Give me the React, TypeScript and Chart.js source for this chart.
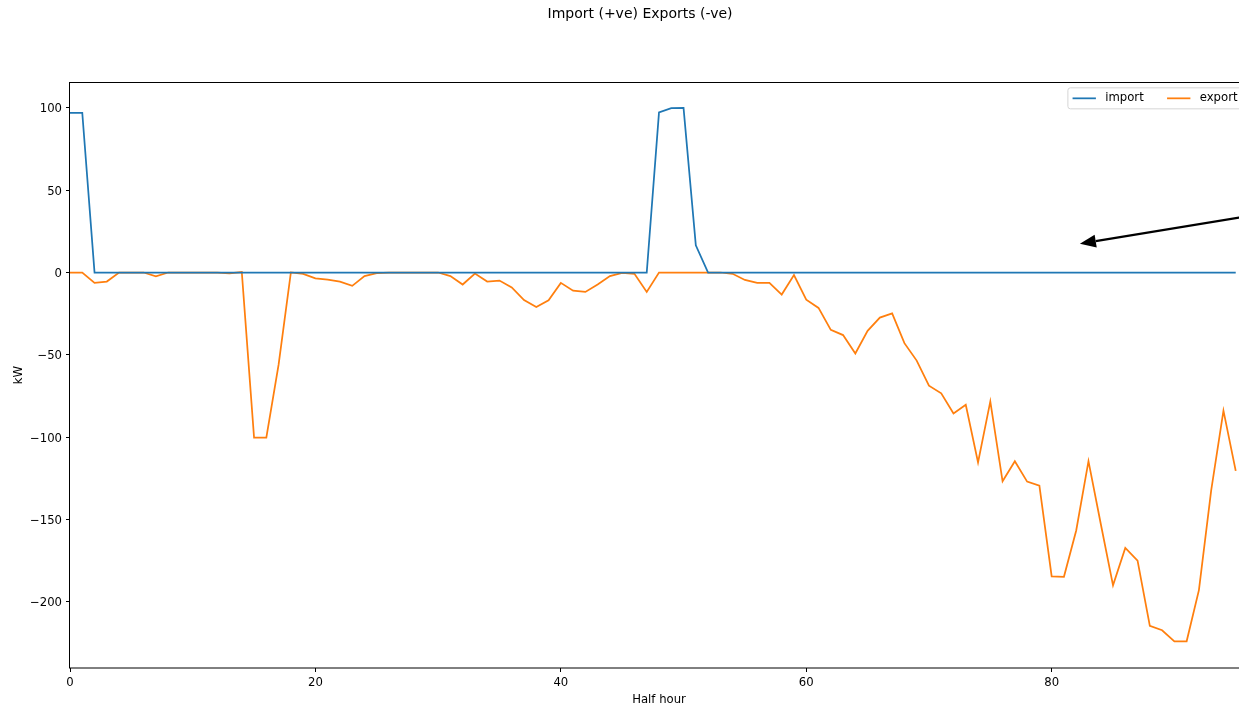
import React, { useEffect, useRef } from "react";
import { Chart, registerables } from "chart.js";

Chart.register(...registerables);

const TITLE = "Import (+ve) Exports (-ve)";
const X_LABEL = "Half hour";
const Y_LABEL = "kW";
const SERIES_LABELS = ["import", "export"];
const SERIES_COLORS = ["#1f77b4", "#ff7f0e"];

const X_TICKS = [0, 20, 40, 60, 80];
const Y_TICKS = [100, 50, 0, -50, -100, -150, -200];
const X_RANGE = [0, 96];
const Y_RANGE = [-240.2, 115.7];

// import (kW) per half hour 0..95
const importKW = [
  97, 97, 0, 0, 0, 0, 0, 0, 0, 0,
  0, 0, 0, 0, 0, 0, 0, 0, 0, 0,
  0, 0, 0, 0, 0, 0, 0, 0, 0, 0,
  0, 0, 0, 0, 0, 0, 0, 0, 0, 0,
  0, 0, 0, 0, 0, 0, 0, 0, 97.2, 99.8,
  100, 16.5, 0, 0, 0, 0, 0, 0, 0, 0,
  0, 0, 0, 0, 0, 0, 0, 0, 0, 0,
  0, 0, 0, 0, 0, 0, 0, 0, 0, 0,
  0, 0, 0, 0, 0, 0, 0, 0, 0, 0,
  0, 0, 0, 0, 0, 0,
];

// export (kW, negative) per half hour 0..95
const exportKW = [
  0, 0, -6.3, -5.5, 0, 0, 0, -2.4, 0, 0,
  0, 0, 0, -0.5, 0.3, -100.3, -100.3, -56, 0, -0.8,
  -3.5, -4.3, -5.5, -8.1, -2.2, -0.4, 0, 0, 0, 0,
  0, -2.2, -7.3, -0.6, -5.5, -4.9, -9.1, -16.7, -20.9, -16.9,
  -6.3, -11, -11.8, -7.3, -2.2, -0.2, -0.8, -11.8, 0, 0,
  0, 0, 0, 0, -0.8, -4.5, -6.3, -6.3, -13.4, -1.6,
  -16.5, -21.5, -34.8, -38, -49.2, -35.4, -27.4, -24.8, -42.9, -53.5,
  -68.7, -73.4, -85.6, -80.3, -115.4, -78.3, -126.8, -114.6, -127, -129.5,
  -184.5, -184.8, -156.7, -114.6, -152.6, -190, -167.3, -175, -214.6, -217.3,
  -224, -224, -192.9, -132.3, -83.9, -120.5,
];

const halfHours = importKW.map((_, i) => i);

// annotation arrow (data coordinates): tip and tail
const ARROW_TIP = [82.3, 17.5];
const ARROW_TAIL = [100, 39.2];

const FONT = '"DejaVu Sans", sans-serif';
const FS = 11.67;

const fmtNum = (v: number) => (v < 0 ? "\u2212" + String(-v) : String(v));

const framePlugin = {
  id: "frame",
  afterDatasetsDraw(chart: any) {
    const { ctx, chartArea: a } = chart;
    ctx.save();
    ctx.strokeStyle = "#000";
    ctx.lineWidth = 1;
    ctx.strokeRect(Math.round(a.left) - 0.5, Math.round(a.top) + 0.5, Math.round(a.right - a.left), Math.round(a.bottom - a.top) - 0.5);
    ctx.restore();
  },
};

const arrowPlugin = {
  id: "arrow",
  afterDatasetsDraw(chart: any) {
    const { ctx } = chart;
    const xs = chart.scales.x;
    const ys = chart.scales.y;
    const tx = xs.getPixelForValue(ARROW_TIP[0]);
    const ty = ys.getPixelForValue(ARROW_TIP[1]);
    const sx = xs.getPixelForValue(ARROW_TAIL[0]);
    const sy = ys.getPixelForValue(ARROW_TAIL[1]);
    const ang = Math.atan2(ty - sy, tx - sx);
    const headLen = 16;
    const headHalf = 6.5;
    const bx = tx - headLen * Math.cos(ang);
    const by = ty - headLen * Math.sin(ang);
    ctx.save();
    ctx.strokeStyle = "#000";
    ctx.fillStyle = "#000";
    ctx.lineWidth = 2.2;
    ctx.beginPath();
    ctx.moveTo(sx, sy);
    ctx.lineTo(bx, by);
    ctx.stroke();
    ctx.beginPath();
    ctx.moveTo(tx, ty);
    ctx.lineTo(bx + headHalf * Math.sin(ang), by - headHalf * Math.cos(ang));
    ctx.lineTo(bx - headHalf * Math.sin(ang), by + headHalf * Math.cos(ang));
    ctx.closePath();
    ctx.fill();
    ctx.restore();
  },
};

const legendPlugin = {
  id: "mplLegend",
  afterDraw(chart: any) {
    const { ctx, chartArea: a } = chart;
    const ds = chart.data.datasets;
    ctx.save();
    ctx.font = `${FS}px ${FONT}`;
    const pad = 0.4 * FS;
    const handle = 2 * FS;
    const textPad = 0.8 * FS;
    const colSp = 2 * FS;
    const widths = ds.map((d: any) => ctx.measureText(d.label).width);
    let W = 2 * pad;
    widths.forEach((w: number, i: number) => {
      W += handle + textPad + w + (i > 0 ? colSp : 0);
    });
    const H = 21;
    const right = a.right - 0.5 * FS;
    const top = a.top + 0.5 * FS;
    const left = right - W;
    const r = 2.5;
    ctx.beginPath();
    ctx.moveTo(left + r, top);
    ctx.lineTo(left + W - r, top);
    ctx.arcTo(left + W, top, left + W, top + r, r);
    ctx.lineTo(left + W, top + H - r);
    ctx.arcTo(left + W, top + H, left + W - r, top + H, r);
    ctx.lineTo(left + r, top + H);
    ctx.arcTo(left, top + H, left, top + H - r, r);
    ctx.lineTo(left, top + r);
    ctx.arcTo(left, top, left + r, top, r);
    ctx.closePath();
    ctx.fillStyle = "rgba(255,255,255,0.8)";
    ctx.fill();
    ctx.strokeStyle = "#d5d5d5";
    ctx.lineWidth = 1;
    ctx.stroke();
    let x = left + pad;
    const cy = top + H / 2;
    ds.forEach((d: any, i: number) => {
      if (i > 0) x += colSp;
      ctx.strokeStyle = d.borderColor;
      ctx.lineWidth = 1.75;
      ctx.beginPath();
      ctx.moveTo(x, cy);
      ctx.lineTo(x + handle, cy);
      ctx.stroke();
      x += handle + textPad;
      ctx.fillStyle = "#000";
      ctx.textAlign = "left";
      ctx.textBaseline = "middle";
      ctx.fillText(d.label, x, cy);
      x += widths[i];
    });
    ctx.restore();
  },
};

const titlePlugin = {
  id: "figTitle",
  afterDraw(chart: any) {
    const { ctx } = chart;
    ctx.save();
    ctx.font = `14px ${FONT}`;
    ctx.fillStyle = "#000";
    ctx.textAlign = "center";
    ctx.textBaseline = "middle";
    ctx.fillText(TITLE, chart.width / 2, 14);
    ctx.restore();
  },
};

export default function App() {
  const canvasRef = useRef<HTMLCanvasElement | null>(null);

  useEffect(() => {
    if (!canvasRef.current) return;
    const font = { family: FONT, size: FS };
    const chart = new Chart(canvasRef.current, {
      type: "line",
      data: {
        datasets: [
          {
            label: SERIES_LABELS[0],
            data: importKW.map((v, i) => ({ x: halfHours[i], y: v })),
            borderColor: SERIES_COLORS[0],
            backgroundColor: SERIES_COLORS[0],
          },
          {
            label: SERIES_LABELS[1],
            data: exportKW.map((v, i) => ({ x: halfHours[i], y: v })),
            borderColor: SERIES_COLORS[1],
            backgroundColor: SERIES_COLORS[1],
          },
        ],
      },
      options: {
        animation: false,
        responsive: false,
        devicePixelRatio: 1,
        layout: { padding: { top: 82, right: 32, left: 0, bottom: 0 } },
        elements: {
          point: { radius: 0, hoverRadius: 0 },
          line: { tension: 0, borderWidth: 1.75, fill: false },
        },
        plugins: {
          legend: { display: false },
          title: { display: false },
          tooltip: { enabled: false },
        },
        events: [],
        scales: {
          x: {
            type: "linear",
            min: X_RANGE[0],
            max: X_RANGE[1],
            afterBuildTicks: (s: any) => {
              s.ticks = X_TICKS.map((v) => ({ value: v }));
            },
            afterFit: (s: any) => {
              s.height = 37;
            },
            grid: {
              display: true,
              drawOnChartArea: false,
              drawTicks: true,
              tickLength: 4,
              tickColor: "#000",
              tickWidth: 1,
            },
            border: { display: false },
            ticks: {
              padding: 4,
              color: "#000",
              font,
              maxRotation: 0,
              autoSkip: false,
              callback: (v: any) => fmtNum(Number(v)),
            },
            title: {
              display: true,
              text: X_LABEL,
              color: "#000",
              font,
              padding: { top: 0, bottom: -2 },
            },
          },
          y: {
            type: "linear",
            min: Y_RANGE[0],
            max: Y_RANGE[1],
            afterBuildTicks: (s: any) => {
              s.ticks = Y_TICKS.map((v) => ({ value: v }));
            },
            afterFit: (s: any) => {
              s.width = 70;
            },
            grid: {
              display: true,
              drawOnChartArea: false,
              drawTicks: true,
              tickLength: 4,
              tickColor: "#000",
              tickWidth: 1,
            },
            border: { display: false },
            ticks: {
              padding: 4,
              labelOffset: 1.5,
              color: "#000",
              font,
              autoSkip: false,
              callback: (v: any) => fmtNum(Number(v)),
            },
            title: {
              display: true,
              text: Y_LABEL,
              color: "#000",
              font,
              padding: { top: 12, bottom: 0 },
            },
          },
        },
      },
      plugins: [framePlugin, arrowPlugin, legendPlugin, titlePlugin],
    } as any);
    return () => chart.destroy();
  }, []);

  return (
    <div
      style={{
        position: "fixed",
        left: 0,
        top: 0,
        width: 1239,
        height: 705,
        overflow: "hidden",
        background: "#fff",
      }}
    >
      <canvas ref={canvasRef} width={1280} height={705} style={{ display: "block", width: 1280, height: 705 }} />
    </div>
  );
}
